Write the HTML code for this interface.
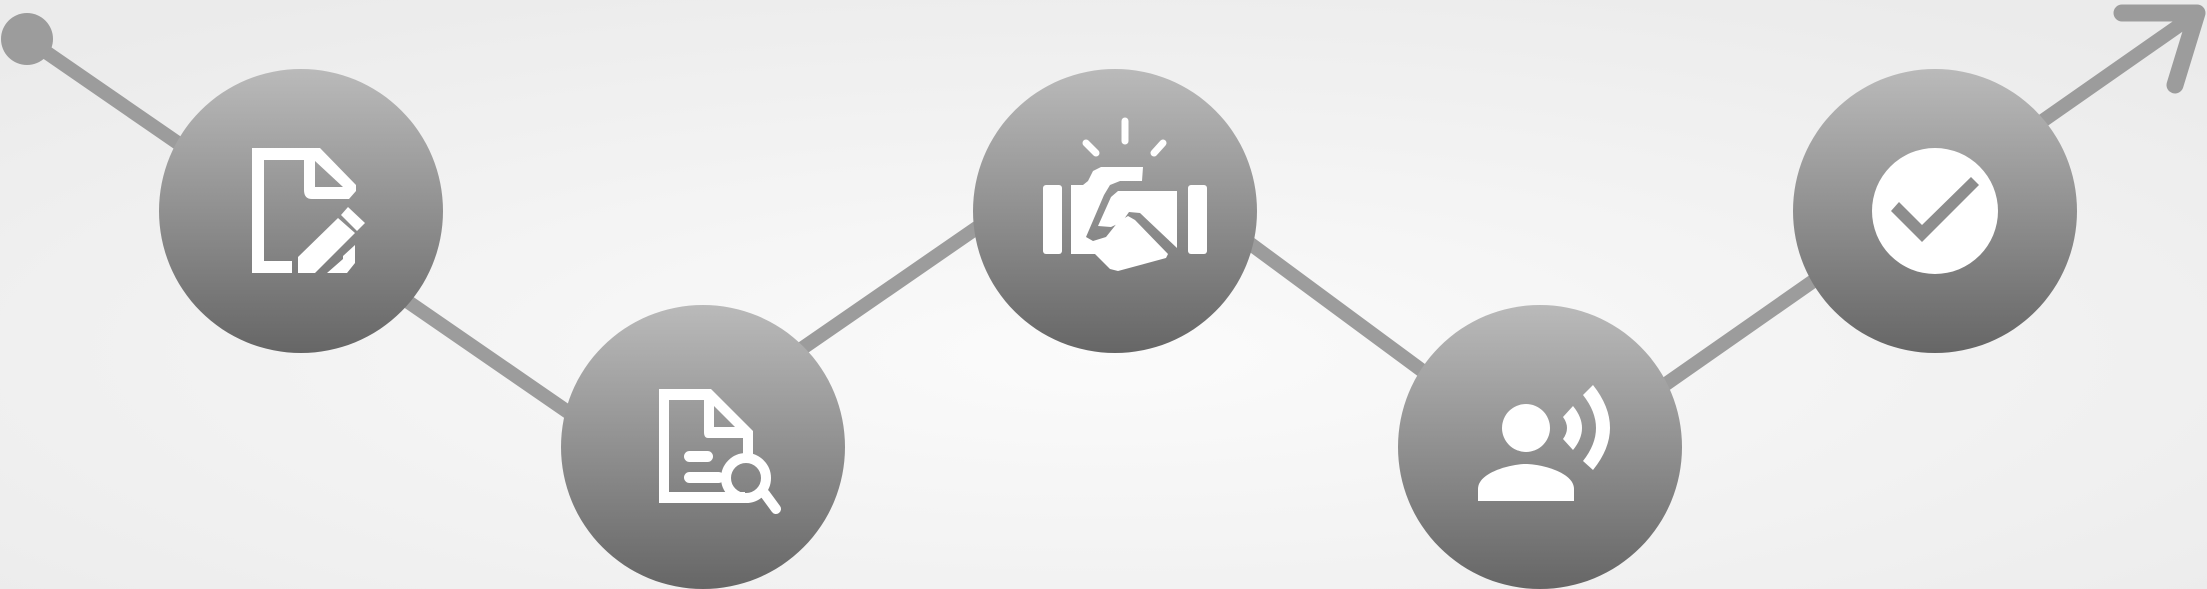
<!DOCTYPE html>
<html><head><meta charset="utf-8"><style>
html,body{margin:0;padding:0;width:2207px;height:589px;overflow:hidden;}
svg{display:block;}
</style></head><body>
<svg width="2207" height="589" viewBox="0 0 2207 589" xmlns="http://www.w3.org/2000/svg">
<defs>
<radialGradient id="bg" cx="50%" cy="60%" r="70%">
<stop offset="0" stop-color="#fbfbfb"/><stop offset="1" stop-color="#ebebeb"/>
</radialGradient>
<linearGradient id="cg" x1="0" y1="0" x2="0" y2="1">
<stop offset="0" stop-color="#bababa"/><stop offset="1" stop-color="#666"/>
</linearGradient>
</defs>
<rect width="2207" height="589" fill="url(#bg)"/>
<g stroke="#9c9c9c" fill="none" stroke-linejoin="round">
<polyline points="27,39 639,461 1107,138 1550,465 2197,13" stroke-width="14"/>
<polyline points="2122,13 2197,13 2175,85" stroke-width="17" stroke-linecap="round"/>
</g>
<circle cx="27" cy="39" r="26" fill="#9c9c9c"/>
<g fill="url(#cg)">
<circle cx="301" cy="211" r="142"/>
<circle cx="703" cy="447" r="142"/>
<circle cx="1115" cy="211" r="142"/>
<circle cx="1540" cy="447" r="142"/>
<circle cx="1935" cy="211" r="142"/>
</g>
<!-- icon 1 -->
<g fill="#fff">
<rect x="252" y="148" width="12" height="125" rx="3"/>
<rect x="252" y="148" width="60" height="12"/>
<rect x="252" y="261" width="40" height="12"/>
<path fill-rule="evenodd" d="M304 148 H320 L356 185 V191 L349 199 H312 Q304 199 304 190 Z M315 161 V187 H343 Z"/>
<polygon points="298,257 298,273 315,273 355,233 338,218"/>
<polygon points="341,215 348,207 365,223 357,231"/>
<polygon points="327,273 343,259 343,256 355,245 355,263 347,273"/>
</g>
<!-- icon 2 -->
<g fill="#fff">
<rect x="659" y="389" width="10" height="114" rx="2"/>
<rect x="659" y="389" width="50" height="11"/>
<rect x="659" y="492" width="86" height="11"/>
<path fill-rule="evenodd" d="M704 389 H711 L753 431 V455 H743 V438 H708 Q704 438 704 432 Z M714 406 V427 H735 Z"/>
<rect x="684" y="451" width="29" height="11" rx="5.5"/>
<rect x="684" y="472" width="40" height="11" rx="5.5"/>
</g>
<circle cx="746" cy="478" r="20" fill="none" stroke="#fff" stroke-width="10"/>
<line x1="765" y1="494" x2="776" y2="509" stroke="#fff" stroke-width="10" stroke-linecap="round"/>
<!-- icon 3 -->
<g fill="#fff">
<rect x="1043" y="185" width="19" height="69" rx="3"/>
<rect x="1188" y="185" width="19" height="69" rx="3"/>
<polygon points="1071,185 1083,185 1088,181 1093,171 1101,167 1143,167 1142,181 1120,181 1110,185 1104,195 1086,237 1093,241 1106,237 1118,222 1128,216 1135,220 1168,254 1166,258 1118,271 1110,269 1095,254 1071,254"/>
<polygon points="1118,191 1177,191 1177,248 1140,213 1129,212 1122,222 1111,227 1098,226 1111,197"/>
</g>
<g stroke="#fff" stroke-width="7" stroke-linecap="round">
<line x1="1125" y1="121" x2="1125" y2="141"/>
<line x1="1086" y1="143" x2="1096" y2="153"/>
<line x1="1163" y1="143" x2="1154" y2="153"/>
</g>
<!-- icon 4 -->
<g fill="#fff">
<circle cx="1526" cy="428" r="24"/>
<path d="M1478 501 V489 C1478 472 1512 464 1526 464 C1540 464 1574 472 1574 489 V501 Z"/>
<path d="M1563 417 L1573 406 Q1591 428 1573 450 L1563 439 Q1571 428 1563 417Z"/>
<path d="M1583 395 L1593 385 Q1627 428 1593 470 L1583 461 Q1609 428 1583 395Z"/>
</g>
<!-- icon 5 -->
<circle cx="1935" cy="211" r="63" fill="#fff"/>
<polygon points="1891,211 1899,202 1922,225 1971,177 1979,185 1922,242" fill="#8d8d8d"/>
</svg>
</body></html>
